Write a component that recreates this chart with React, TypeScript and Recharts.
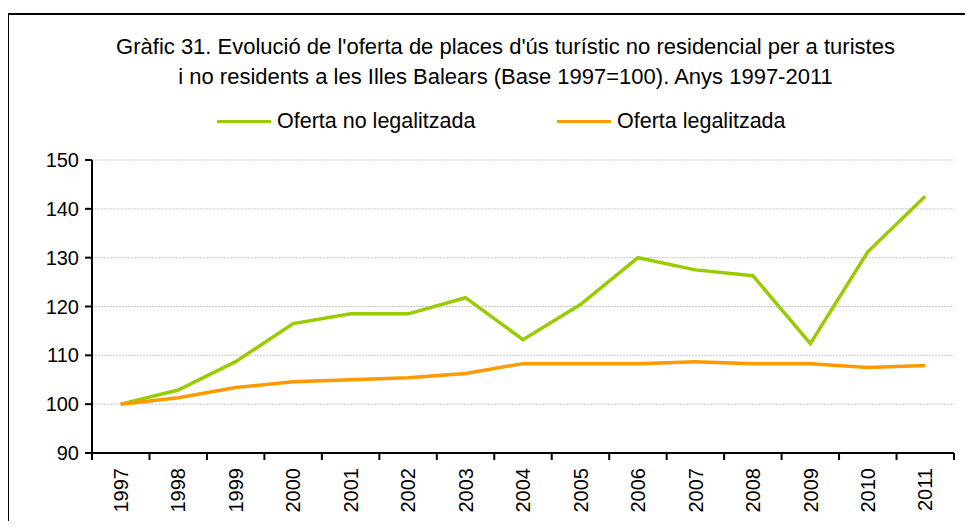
import { LineChart, Line, XAxis, YAxis, CartesianGrid } from "recharts"

const years = [
  "1997", "1998", "1999", "2000", "2001", "2002", "2003", "2004",
  "2005", "2006", "2007", "2008", "2009", "2010", "2011",
]
const ofertaNoLegal = [
  100, 102.9, 108.7, 116.5, 118.5, 118.5, 121.8, 113.2,
  120.4, 130.0, 127.5, 126.3, 112.4, 131.2, 142.6,
]
const ofertaLegal = [
  100, 101.3, 103.4, 104.6, 105.0, 105.4, 106.3, 108.3,
  108.3, 108.3, 108.7, 108.3, 108.3, 107.5, 107.9,
]
const yTicks = [90, 100, 110, 120, 130, 140, 150]

const data = years.map((year, i) => ({
  year,
  noLegal: ofertaNoLegal[i],
  legal: ofertaLegal[i],
}))

const W = 973
const H = 529
const PLOT_LEFT = 92
const PLOT_RIGHT = 954
const BAND = (PLOT_RIGHT - PLOT_LEFT) / years.length
const FONT = "'Liberation Sans', Arial, sans-serif"

const GREEN = "#99cc00"
const ORANGE = "#ff9900"

function YearTick(props: any) {
  const { x, y, payload, index } = props
  const last = index === years.length - 1
  return (
    <g>
      <line x1={x - BAND / 2} x2={x - BAND / 2} y1={y} y2={y + 7} stroke="#000" strokeWidth={2} />
      {last && (
        <line x1={x + BAND / 2} x2={x + BAND / 2} y1={y} y2={y + 7} stroke="#000" strokeWidth={2} />
      )}
      <text
        x={x}
        y={y + 15}
        transform={`rotate(-90 ${x} ${y + 15})`}
        textAnchor="end"
        dy="0.36em"
        fontSize={20}
        fontFamily={FONT}
        fill="#000"
      >
        {payload.value}
      </text>
    </g>
  )
}

function LegendItem({ color, label, left }: { color: string; label: string; left: number }) {
  return (
    <div style={{ position: "absolute", left, top: 109, display: "flex", alignItems: "center" }}>
      <div style={{ width: 54, height: 3, background: color, marginRight: 6 }} />
      <span style={{ fontSize: 21.5, lineHeight: "24px" }}>{label}</span>
    </div>
  )
}

export default function App() {
  return (
    <div
      style={{
        position: "relative",
        width: W,
        height: H,
        margin: -8,
        overflow: "hidden",
        background: "#fff",
        fontFamily: FONT,
        color: "#000",
      }}
    >
      <div
        style={{
          position: "absolute",
          left: 7,
          top: 13,
          right: -10,
          bottom: -10,
          borderLeft: "2px solid #000",
          borderTop: "2px solid #000",
        }}
      />
      <div
        style={{
          position: "absolute",
          top: 32,
          left: 19,
          width: W,
          textAlign: "center",
          fontSize: 22,
          lineHeight: "30px",
        }}
      >
        Gràfic 31. Evolució de l'oferta de places d'ús turístic no residencial per a turistes
        <br />
        i no residents a les Illes Balears (Base 1997=100). Anys 1997-2011
      </div>
      <LegendItem color={GREEN} label="Oferta no legalitzada" left={217} />
      <LegendItem color={ORANGE} label="Oferta legalitzada" left={557} />

      <div style={{ position: "absolute", left: 0, top: 0 }}>
        <LineChart
          width={W}
          height={H}
          data={data}
          margin={{ top: 160, right: W - PLOT_RIGHT, bottom: 0, left: PLOT_LEFT - 60 }}
        >
          <CartesianGrid vertical={false} stroke="#c8c8c8" strokeDasharray="2 1" />
          <XAxis
            dataKey="year"
            height={76}
            interval={0}
            padding={{ left: BAND / 2, right: BAND / 2 }}
            axisLine={{ stroke: "#000", strokeWidth: 2 }}
            tickLine={false}
            tickSize={0}
            tickMargin={0}
            tick={<YearTick />}
          />
          <XAxis
            xAxisId="top"
            dataKey="year"
            orientation="top"
            height={0}
            tick={false}
            tickLine={false}
            axisLine={{ stroke: "#888", strokeWidth: 2 }}
          />
          <YAxis
            width={60}
            domain={[90, 150]}
            ticks={yTicks}
            interval={0}
            axisLine={{ stroke: "#000", strokeWidth: 2 }}
            tickLine={{ stroke: "#000", strokeWidth: 2 }}
            tickSize={7}
            tickMargin={6}
            tick={{ fontSize: 20, fill: "#000", fontFamily: FONT }}
          />
          <YAxis
            yAxisId="right"
            orientation="right"
            width={0}
            domain={[90, 150]}
            tick={false}
            tickLine={false}
            axisLine={{ stroke: "#888", strokeWidth: 2 }}
          />
          <Line
            dataKey="noLegal"
            stroke={GREEN}
            strokeWidth={3.5}
            dot={false}
            isAnimationActive={false}
          />
          <Line
            dataKey="legal"
            stroke={ORANGE}
            strokeWidth={3.5}
            dot={false}
            isAnimationActive={false}
          />
        </LineChart>
      </div>
    </div>
  )
}
